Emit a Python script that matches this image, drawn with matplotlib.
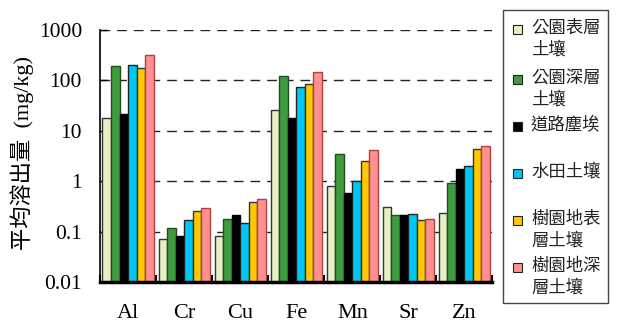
import numpy as np
import matplotlib.pyplot as plt
from matplotlib.patches import Rectangle

# 元素別の平均溶出量 (mg/kg)
elements = ['Al', 'Cr', 'Cu', 'Fe', 'Mn', 'Sr', 'Zn']
series_names = ['公園表層\n土壤', '公園深層\n土壤', '道路塵埃', '水田土壤',
                '樹園地表\n層土壤', '樹園地深\n層土壤']
park_surface = [18, 0.06, 0.071, 25.6, 0.79, 0.295, 0.225]
park_deep = [195, 0.11, 0.17, 123, 3.5, 0.20, 0.93]
road_dust = [22, 0.073, 0.205, 17.9, 0.56, 0.20, 1.7]
paddy = [203, 0.16, 0.135, 74, 1.02, 0.21, 2.0]
orchard_surface = [180, 0.25, 0.38, 83, 2.5, 0.158, 4.3]
orchard_deep = [322, 0.28, 0.43, 146, 4.1, 0.17, 5.0]

series = [park_surface, park_deep, road_dust, paddy, orchard_surface, orchard_deep]
colors = ['#e6f0c2', '#3f9b3f', '#000000', '#00c8f6', '#ffc800', '#ff9191']
edges = ['#333333', '#1f4f1f', '#000000', '#222222', '#333333', '#b04040']

cjk = ['Noto Sans CJK TC', 'DejaVu Sans']
serif = ['Liberation Serif', 'Noto Sans CJK TC']

fig = plt.figure(figsize=(6.19, 3.29), dpi=100)
ax = fig.add_axes([0.1616, 0.1429, 0.634, 0.766])

x = np.arange(len(elements))
width = 0.152
offsets = (np.arange(len(series)) - (len(series) - 1) / 2) * width
for vals, off, c, ec in zip(series, offsets, colors, edges):
    ax.bar(x + off, vals, width, bottom=0.01, color=c, edgecolor=ec,
           linewidth=1.0, zorder=3)

ax.set_yscale('log')
ax.set_ylim(0.01, 1000)
ax.set_xlim(-0.5, len(elements) - 0.5)

ax.set_yticks([0.01, 0.1, 1, 10, 100, 1000])
ax.set_yticklabels(['0.01', '0.1', '1', '10', '100', '1000'], family=serif, fontsize=15.5)
ax.yaxis.set_minor_locator(plt.NullLocator())
ax.tick_params(axis='y', direction='in', length=5, width=1, pad=13)

# 元素名は区切り目盛りの間に置く
ax.set_xticks(np.arange(len(elements) + 1) - 0.5)
ax.set_xticklabels([])
ax.set_xticks(x, minor=True)
ax.set_xticklabels(elements, minor=True, family=serif, fontsize=16)
ax.tick_params(axis='x', which='major', direction='in', length=5, width=1.5)
ax.tick_params(axis='x', which='minor', length=0, pad=16)

for yv in [0.1, 1, 10, 100, 1000]:
    ax.axhline(yv, color='#222222', linewidth=1.0, linestyle=(0, (7, 5)), zorder=1)

for side in ['top', 'right']:
    ax.spines[side].set_visible(False)
ax.spines['left'].set_linewidth(1.2)
ax.spines['bottom'].set_linewidth(2.5)
ax.spines['bottom'].set_zorder(4)

ax.set_ylabel('平均溶出量  (mg/kg)', family=serif, fontsize=16)
ax.yaxis.set_label_coords(-0.168, 0.51)

# 凡例 (マーカーは各項目の1行目に揃える)
W, H = 619, 329
fig.patches.append(Rectangle((503 / W, 1 - 303 / H), 105 / W, 293 / H,
                             transform=fig.transFigure, facecolor='white',
                             edgecolor='#444444', linewidth=1.0))
entry_y = [29, 79, 126, 173, 220, 267]
for name, c, ec, yy in zip(series_names, colors, edges, entry_y):
    fig.patches.append(Rectangle((513 / W, 1 - (yy + 4.5) / H), 9 / W, 9 / H,
                                 transform=fig.transFigure, facecolor=c,
                                 edgecolor='#222222', linewidth=0.8))
    fig.text(531 / W, 1 - (yy - 10) / H, name, family=cjk, fontsize=12.5,
             va='top', ha='left', linespacing=1.25, color='#222222')

fig.savefig('out.png', dpi=100)
